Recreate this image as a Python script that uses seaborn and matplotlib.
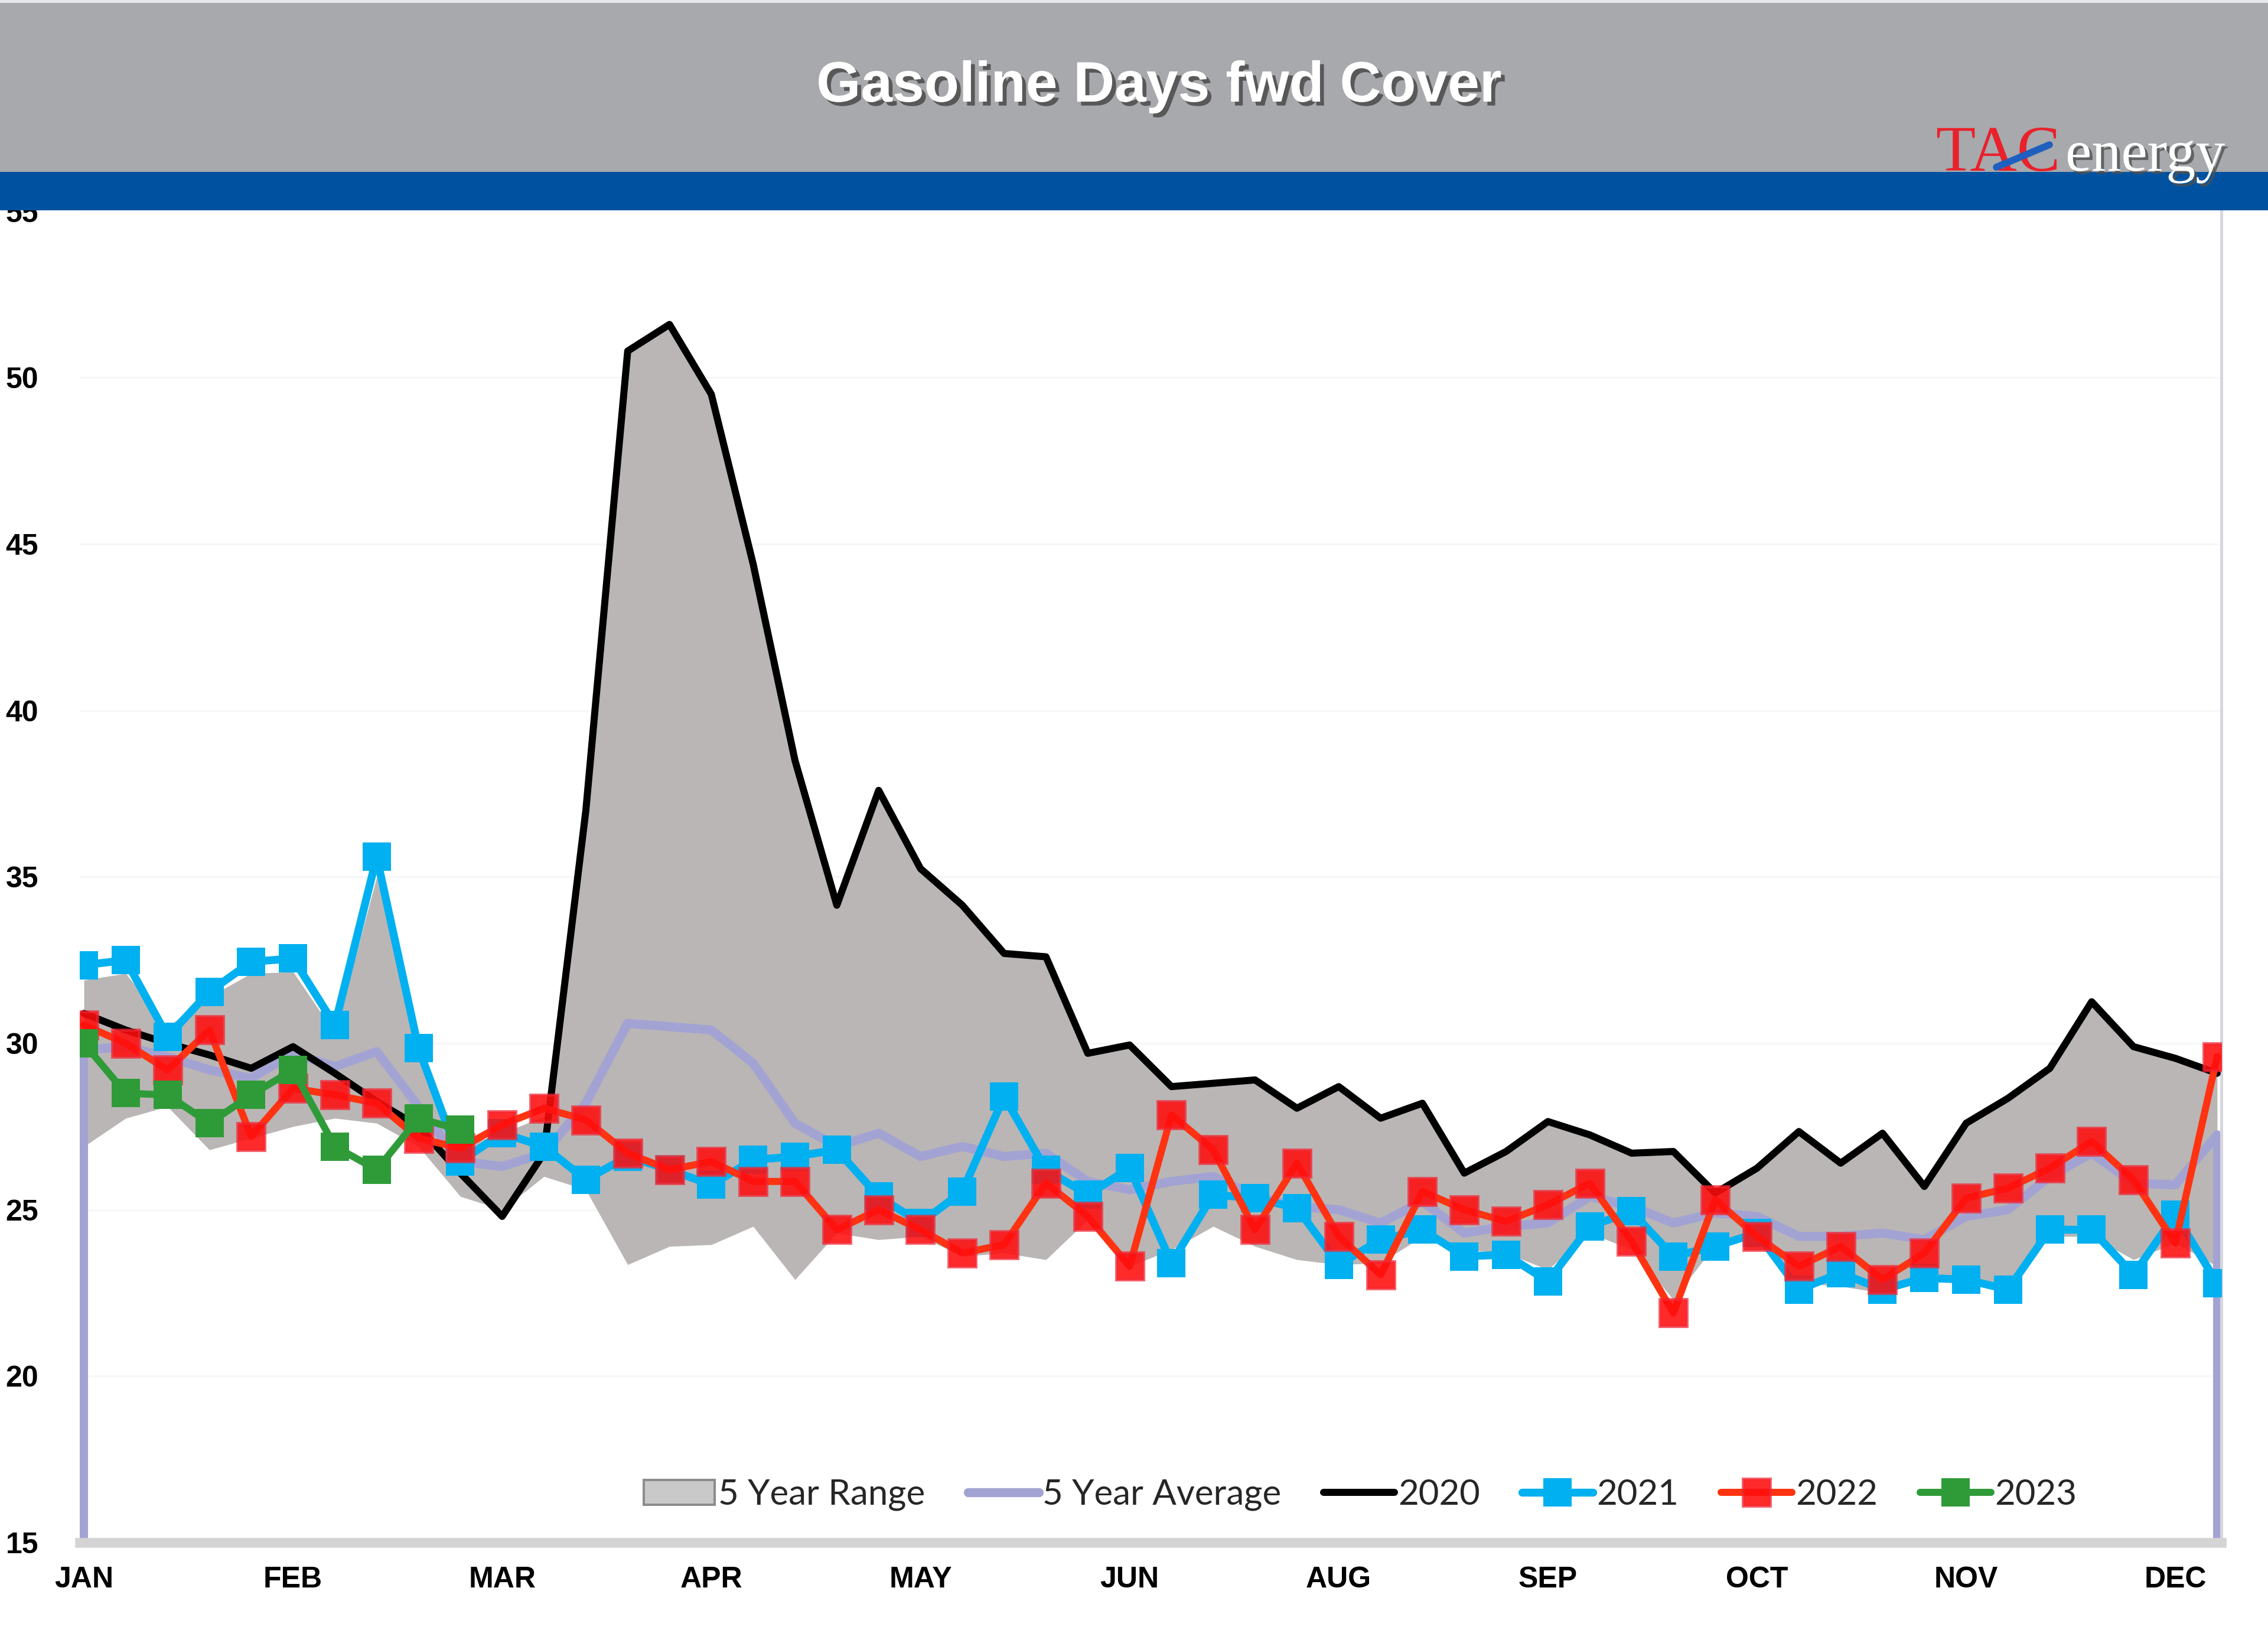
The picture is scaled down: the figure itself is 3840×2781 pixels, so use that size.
import matplotlib
matplotlib.use("Agg")
import matplotlib.pyplot as plt
import matplotlib.patheffects as pe
from matplotlib.patches import Rectangle, Patch
from matplotlib.lines import Line2D
import pandas as pd
import seaborn as sns

# ---------------- data ----------------
weeks = list(range(52))
month_ticks = [0, 5, 10, 15, 20, 25, 30, 35, 40, 45, 50]
month_labels = ["JAN", "FEB", "MAR", "APR", "MAY", "JUN", "AUG", "SEP", "OCT", "NOV", "DEC"]
y_ticks = [15, 20, 25, 30, 35, 40, 45, 50, 55]

range_low = [26.9, 27.75, 28.1, 26.8, 27.15, 27.5, 27.75, 27.6, 26.9, 25.4,
             25.0, 26.0, 25.6, 23.35, 23.9, 23.95, 24.5, 22.9, 24.3, 24.1,
             24.2, 23.6, 23.7, 23.5, 24.7, 23.3, 23.8, 24.5, 23.9, 23.5,
             23.35, 23.4, 24.2, 23.8, 23.7, 23.2, 24.3, 23.8, 22.3, 23.95,
             24.2, 22.8, 22.7, 22.5, 22.9, 22.9, 22.7, 24.2, 24.2, 23.5,
             24.0, 23.3]
range_high = [31.9, 32.1, 30.5, 31.4, 32.1, 32.15, 30.3, 35.0, 29.8, 26.9,
              27.3, 27.8, 37.0, 50.8, 51.6, 49.5, 44.4, 38.5, 34.15, 37.6,
              35.25, 34.15, 32.7, 32.6, 29.7, 29.95, 28.7, 28.8, 28.9, 28.05,
              28.7, 27.75, 28.2, 26.1, 26.75, 27.65, 27.25, 26.7, 26.75, 25.5,
              26.25, 27.35, 26.4, 27.3, 25.7, 27.6, 28.35, 29.25, 31.25, 29.9,
              29.55, 29.1]
avg5 = [29.8, 29.9, 29.6, 29.2, 28.95, 29.7, 29.3, 29.75, 28.1, 26.45,
        26.3, 26.7, 28.2, 30.6, 30.5, 30.4, 29.4, 27.6, 26.9, 27.3,
        26.6, 26.9, 26.6, 26.7, 25.85, 25.6, 25.85, 26.0, 25.4, 25.1,
        25.0, 24.6, 25.25, 24.3, 24.5, 24.6, 25.4, 25.1, 24.6, 24.9,
        24.8, 24.2, 24.2, 24.3, 24.1, 24.8, 25.0, 26.0, 26.7, 25.8,
        25.75, 27.25]
y2020 = [30.9, 30.4, 30.0, 29.65, 29.25, 29.9, 29.1, 28.25, 27.5, 26.1,
         24.8, 26.7, 37.0, 50.8, 51.6, 49.5, 44.4, 38.5, 34.15, 37.6,
         35.25, 34.15, 32.7, 32.6, 29.7, 29.95, 28.7, 28.8, 28.9, 28.05,
         28.7, 27.75, 28.2, 26.1, 26.75, 27.65, 27.25, 26.7, 26.75, 25.5,
         26.25, 27.35, 26.4, 27.3, 25.7, 27.6, 28.35, 29.25, 31.25, 29.9,
         29.55, 29.1]
y2021 = [32.35, 32.5, 30.2, 31.55, 32.45, 32.55, 30.55, 35.6, 29.85, 26.45,
         27.3, 26.9, 25.9, 26.6, 26.2, 25.75, 26.5, 26.6, 26.8, 25.4,
         24.6, 25.55, 28.4, 26.2, 25.45, 26.25, 23.4, 25.45, 25.35, 25.05,
         23.35, 24.1, 24.4, 23.6, 23.65, 22.85, 24.5, 24.95, 23.6, 23.9,
         24.3, 22.6, 23.1, 22.6, 22.95, 22.9, 22.6, 24.4, 24.4, 23.05,
         24.85, 22.8]
y2022 = [30.55, 30.0, 29.2, 30.4, 27.2, 28.65, 28.45, 28.2, 27.15, 26.85,
         27.55, 28.05, 27.7, 26.7, 26.2, 26.45, 25.85, 25.85, 24.4, 25.0,
         24.4, 23.7, 23.95, 25.8, 24.8, 23.3, 27.85, 26.8, 24.4, 26.4,
         24.2, 23.05, 25.55, 25.0, 24.65, 25.15, 25.8, 24.05, 21.9, 25.3,
         24.2, 23.3, 23.9, 22.9, 23.7, 25.35, 25.65, 26.25, 27.05, 25.9,
         24.0, 29.6]
y2023 = [30.0, 28.5, 28.45, 27.6, 28.45, 29.2, 26.9, 26.2, 27.75, 27.4]

# ---------------- styling ----------------
c_range = "#BAB6B5"
c_avg = "#A3A3D3"
c_2020 = "#000000"
c_2021 = "#00B0F0"
c_2022_line = "#FF3311"
c_2022_mark = (1.0, 0.05, 0.05, 0.88)
c_2023 = "#2F9B38"

sns.set_theme(style="white")
plt.rcParams["font.family"] = ["Liberation Sans", "DejaVu Sans"]

W, H = 3840, 2781
fig = plt.figure(figsize=(W / 240, H / 240), dpi=240)
fig.patch.set_facecolor("white")

ax_left, ax_right = 135 / W, 3761 / W
ax_top, ax_bot = 1 - 357.6 / H, 1 - 2611 / H
ax = fig.add_axes([ax_left, ax_bot, ax_right - ax_left, ax_top - ax_bot])
ax.set_facecolor("white")

df = pd.DataFrame({"week": weeks, "low": range_low, "high": range_high,
                   "avg": avg5, "y2020": y2020, "y2021": y2021, "y2022": y2022})
df23 = pd.DataFrame({"week": weeks[:len(y2023)], "y2023": y2023})

# 5 year range
ax.fill_between(df["week"], df["low"], df["high"], color=c_range, lw=0, zorder=1)

# 5 year average (with vertical edges to the axis floor)
sns.lineplot(data=df, x="week", y="avg", ax=ax, color=c_avg, lw=4.6, zorder=2)
ax.vlines([weeks[0], weeks[-1]], y_ticks[0], [avg5[0], avg5[-1]], color=c_avg, lw=4.2, zorder=2)

# years
sns.lineplot(data=df, x="week", y="y2020", ax=ax, color=c_2020, lw=3.6, zorder=3)
sns.lineplot(data=df, x="week", y="y2021", ax=ax, color=c_2021, lw=4.0, zorder=4,
             marker="s", markersize=14.5, markeredgewidth=0)
sns.lineplot(data=df, x="week", y="y2022", ax=ax, color=c_2022_line, lw=3.6, zorder=5,
             marker="s", markersize=14, markeredgewidth=1.5, markeredgecolor=(0.95, 0.15, 0.2, 0.7),
             markerfacecolor=c_2022_mark)
sns.lineplot(data=df23, x="week", y="y2023", ax=ax, color=c_2023, lw=3.6, zorder=6,
             marker="s", markersize=14.5, markeredgewidth=0)

ax.set_xlim(-0.1, 51.1)
ax.set_ylim(15, 55)
ax.set_xticks(month_ticks)
ax.set_xticklabels(month_labels, fontsize=15, fontweight="bold", color="black")
ax.set_yticks(y_ticks)
ax.set_yticklabels([str(v) for v in y_ticks], fontsize=15, fontweight="bold", color="black")
ax.tick_params(axis="x", length=0, pad=12)
ax.tick_params(axis="y", length=0, pad=21)
ax.set_xlabel("")
ax.set_ylabel("")
ax.yaxis.grid(True, color="#F7F7F7", lw=1.0)
ax.xaxis.grid(False)
ax.set_axisbelow(True)

ax.spines["left"].set_visible(False)
ax.spines["right"].set_color("#D6D6DE")
ax.spines["right"].set_linewidth(1.5)
ax.spines["top"].set_visible(False)
ax.spines["bottom"].set_color("#D4D4D4")
ax.spines["bottom"].set_linewidth(5)

# legend
handles = [
    Patch(facecolor="#C9C9C9", edgecolor="#8C8C8C", lw=1.2, label="5 Year Range"),
    Line2D([], [], color=c_avg, lw=4.6, label="5 Year Average"),
    Line2D([], [], color=c_2020, lw=3.6, label="2020"),
    Line2D([], [], color=c_2021, lw=4.0, marker="s", markersize=14.5, markeredgewidth=0, label="2021"),
    Line2D([], [], color=c_2022_line, lw=3.6, marker="s", markersize=14, markeredgewidth=1.5,
           markeredgecolor=(0.95, 0.15, 0.2, 0.7), markerfacecolor=c_2022_mark, label="2022"),
    Line2D([], [], color=c_2023, lw=3.6, marker="s", markersize=14.5, markeredgewidth=0, label="2023"),
]
leg = ax.legend(handles=handles, ncol=6, loc="center", bbox_to_anchor=(0.598, 0.036),
                frameon=False, prop={"family": ["Lato", "DejaVu Sans"], "size": 18},
                handlelength=2.0, handletextpad=0.1, columnspacing=1.2, borderaxespad=0,
                numpoints=1)
leg.set_zorder(10)

# header bands (drawn over the top tick label like the reference)
fig.add_artist(Rectangle((0, 1 - 291 / H), 1, 291 / H, transform=fig.transFigure,
                         facecolor="#A7A9AC", edgecolor="none", zorder=5))
fig.add_artist(Rectangle((0, 1 - 5 / H), 1, 5 / H, transform=fig.transFigure,
                         facecolor="#E6E7E8", edgecolor="none", zorder=5.5))
fig.add_artist(Rectangle((0, 1 - 356 / H), 1, 65 / H, transform=fig.transFigure,
                         facecolor="#0052A0", edgecolor="none", zorder=6))

fig.text(1962 / W, 1 - 147 / H, "Gasoline Days fwd Cover", color="white", fontsize=29,
         fontweight="bold", ha="center", va="center", zorder=10,
         path_effects=[pe.withSimplePatchShadow(offset=(2, -2), shadow_rgbFace="#4A4A4A", alpha=0.85)])

# logo
fig.text(3277 / W, 1 - 289 / H, "TAC", color="#E8212B", fontsize=33,
         family=["Liberation Serif", "DejaVu Serif"], ha="left", va="baseline", zorder=10)
fig.text(3497 / W, 1 - 289 / H, "energy", color="white", fontsize=30,
         family=["Liberation Serif", "DejaVu Serif"], ha="left", va="baseline", zorder=10,
         path_effects=[pe.withSimplePatchShadow(offset=(1.5, -1.5), shadow_rgbFace="#505050", alpha=0.8)])
fig.add_artist(Line2D([3380 / W, 3470 / W], [1 - 283 / H, 1 - 245 / H], transform=fig.transFigure,
                      color="#1F5FBF", lw=3.5, zorder=11, solid_capstyle="round"))

fig.savefig("out.png", dpi=240, facecolor="white")
